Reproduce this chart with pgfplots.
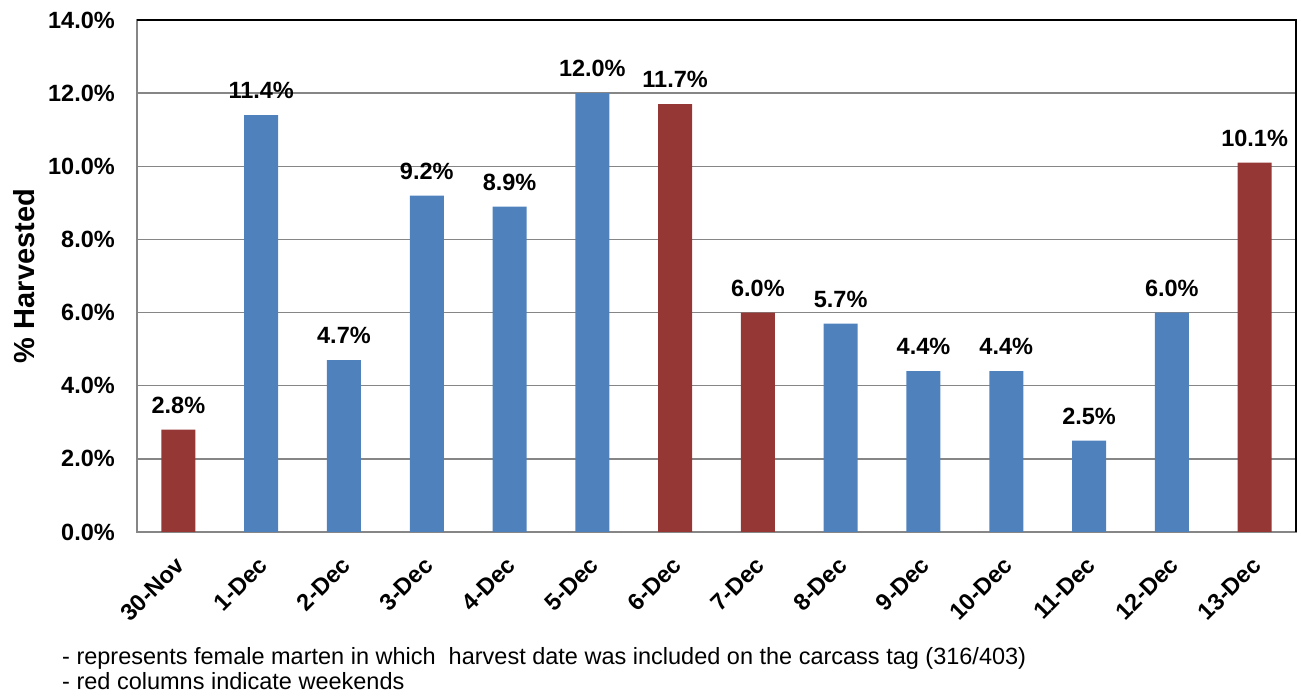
\documentclass[border=0pt]{standalone}
\usepackage{pgfplots}
\pgfplotsset{compat=1.18}
\usepackage{fontspec}
\setmainfont{Liberation Sans}
\definecolor{barblue}{HTML}{4F81BD}
\definecolor{barred}{HTML}{953735}
\definecolor{gridgray}{HTML}{868686}
\begin{document}
\begin{tikzpicture}[x=1pt,y=1pt]
\path[use as bounding box] (0,0) rectangle (1301,698);
\begin{axis}[
  at={(137pt,166pt)}, anchor=south west,
  scale only axis, width=1159pt, height=512pt,
  xmin=-0.5, xmax=13.5, ymin=0, ymax=14,
  xtick={0,...,13},
  xticklabels={30-Nov,1-Dec,2-Dec,3-Dec,4-Dec,5-Dec,6-Dec,7-Dec,8-Dec,9-Dec,10-Dec,11-Dec,12-Dec,13-Dec},
  ytick={0,2,...,14},
  yticklabel={\pgfmathprintnumber[fixed,fixed zerofill,precision=1]{\tick}\%},
  /pgf/number format/assume math mode=true,
  major tick length=0pt,
  ymajorgrids,
  grid style={gridgray, line width=1.3pt},
  axis line style={gridgray, line width=1.3pt},
  xticklabel style={rotate=45, anchor=east, font=\fontsize{23.5}{25}\selectfont\bfseries, inner sep=2pt, yshift=-22pt, xshift=-17pt},
  yticklabel style={font=\fontsize{23.5}{25}\selectfont\bfseries, inner sep=0pt, xshift=-22pt},
  ylabel={\% Harvested},
  ylabel style={at={(axis description cs:-0.0975,0.5)}, anchor=center, font=\fontsize{29}{31}\selectfont\bfseries},
  ybar, bar width=34pt, bar shift=0pt,
  nodes near coords={\pgfmathprintnumber[fixed,fixed zerofill,precision=1]{\pgfplotspointmeta}\%},
  nodes near coords style={font=\fontsize{23.5}{25}\selectfont\bfseries, inner sep=0pt, yshift=16pt, anchor=south},
  point meta=y,
  clip=false,
]
\addplot[fill=barblue, draw=none] coordinates {
  (1,11.4) (2,4.7) (3,9.2) (4,8.9) (5,12.0) (8,5.7) (9,4.4) (10,4.4) (11,2.5) (12,6.0)
};
\addplot[fill=barred, draw=none] coordinates {
  (0,2.8) (6,11.7) (7,6.0) (13,10.1)
};
\draw[black, line width=1.3pt] (rel axis cs:0,1) -- (rel axis cs:1,1) -- (rel axis cs:1,0);
\end{axis}
\node[anchor=base west, font=\fontsize{23.5}{25}\selectfont, inner sep=0pt] at (62,33) {- represents female marten in which\ \ harvest date was included on the carcass tag (316/403)};
\node[anchor=base west, font=\fontsize{23.5}{25}\selectfont, inner sep=0pt] at (62,8) {- red columns indicate weekends};
\end{tikzpicture}
\end{document}
